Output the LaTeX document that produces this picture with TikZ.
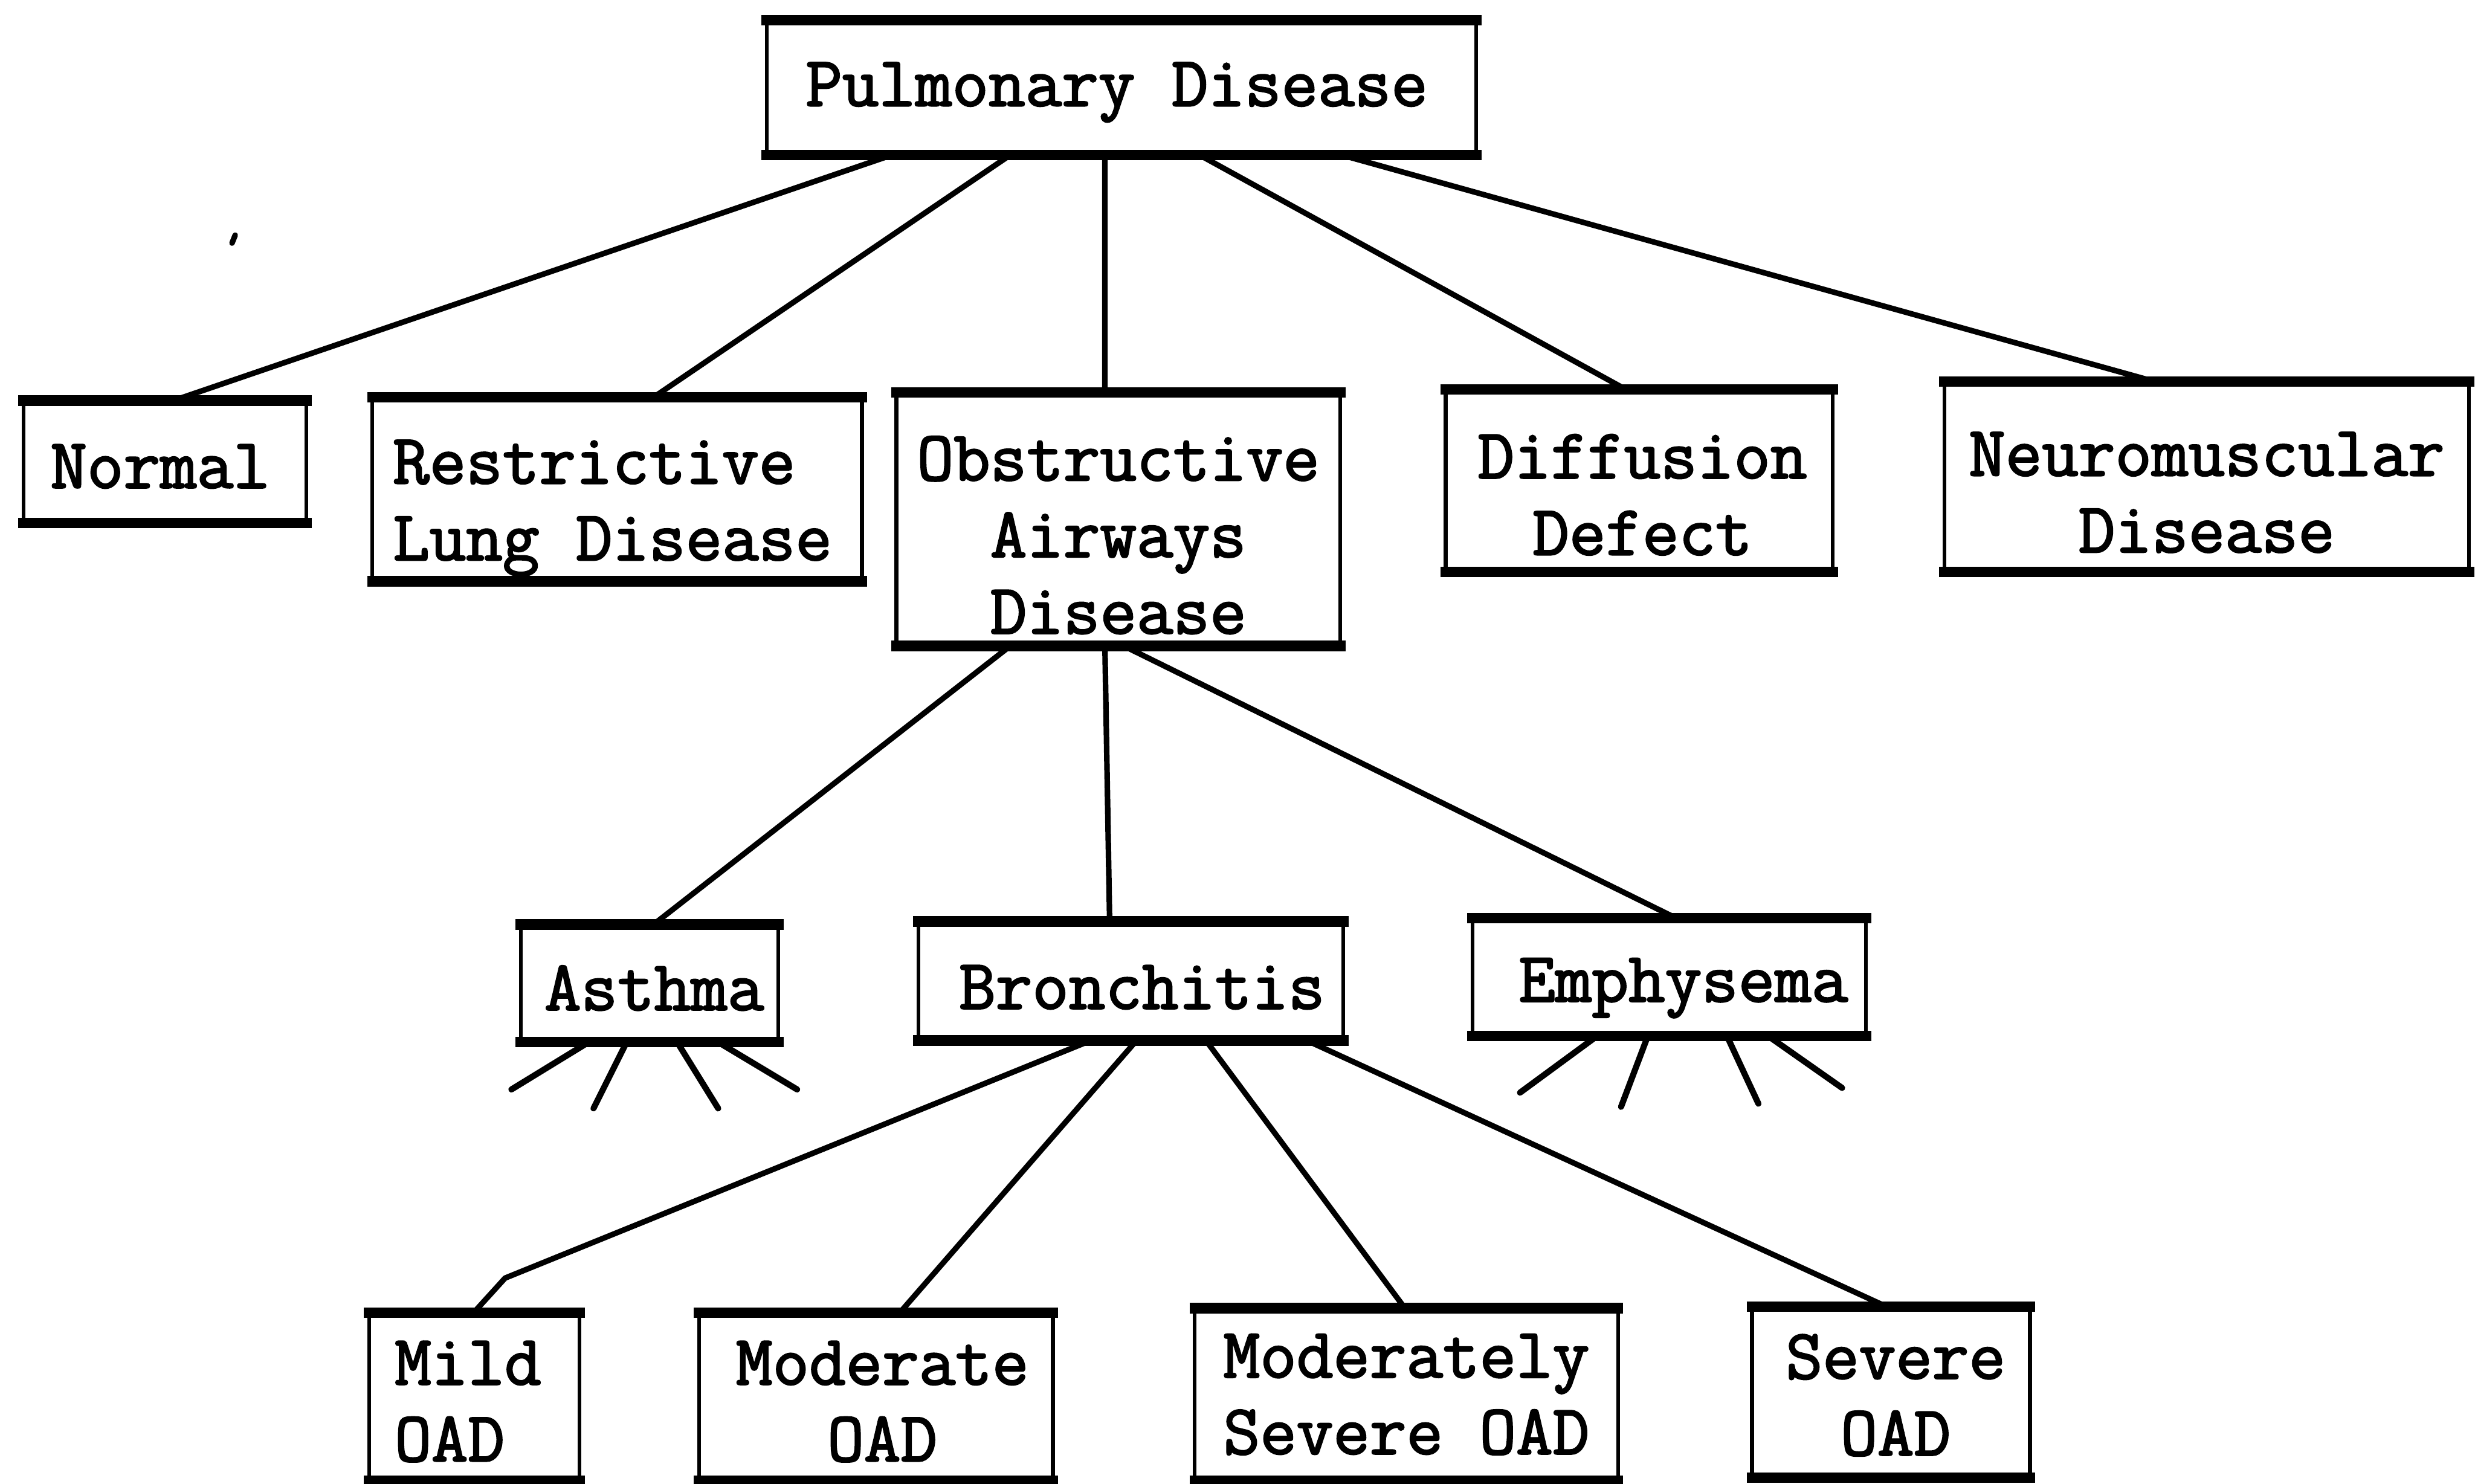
\documentclass[tikz,border=0pt]{standalone}
\usepackage{fontspec}
\newfontfamily\typewriter[FakeBold=2.2]{Latin Modern Mono}
\begin{document}
\begin{tikzpicture}[x=0.01cm,y=-0.01cm,
  box/.style={draw, line width=0.7pt, inner sep=0pt},
  lbl/.style={inner sep=0pt, align=center,
    font=\typewriter\fontsize{12.8}{13.8}\selectfont},
  rim/.style={line width=1.9pt, shorten <=-0.6pt, shorten >=-0.6pt},
  link/.style={line width=1pt, line cap=round, line join=round},
  stub/.style={line width=1.1pt, line cap=round}]
\useasboundingbox (0,0) rectangle (1568,940);

% frames: top level
\node[box, minimum width=4.49cm, minimum height=0.83cm] (pd) at (710.5,55.5) {};
% second level
\node[box, minimum width=1.79cm, minimum height=0.75cm] (normal) at (104.5,292.5) {};
\node[box, minimum width=3.10cm, minimum height=1.14cm] (restr) at (391,310) {};
\node[box, minimum width=2.81cm, minimum height=1.58cm] (oad) at (708.5,329) {};
\node[box, minimum width=2.45cm, minimum height=1.13cm] (diff) at (1038.5,304.5) {};
\node[box, minimum width=3.32cm, minimum height=1.18cm] (neuro) at (1398,302) {};
% third level
\node[box, minimum width=1.63cm, minimum height=0.72cm] (asthma) at (411.5,623) {};
\node[box, minimum width=2.69cm, minimum height=0.73cm] (bron) at (716.5,621.5) {};
\node[box, minimum width=2.49cm, minimum height=0.72cm] (emph) at (1057.5,619) {};
% fourth level
\node[box, minimum width=1.33cm, minimum height=1.04cm] (mild) at (300.5,885) {};
\node[box, minimum width=2.24cm, minimum height=1.04cm] (moder) at (555,885) {};
\node[box, minimum width=2.68cm, minimum height=1.07cm] (modsev) at (891,883.5) {};
\node[box, minimum width=1.76cm, minimum height=1.06cm] (severe) at (1198,882) {};

% typed labels inside the frames
\node[lbl] (pd-t) at ([xshift=-0.03cm,yshift=-0.03cm]pd.center) {Pulmonary Disease};
\node[lbl] (normal-t) at ([xshift=-0.03cm,yshift=-0.03cm]normal.center) {Normal};
\node[lbl, align=left] (restr-t) at ([xshift=-0.03cm,yshift=-0.12cm]restr.center) {Restrictive\\Lung Disease};
\node[lbl] (oad-t) at ([yshift=-0.10cm]oad.center) {Obstructive\\Airways\\Disease};
\node[lbl] (diff-t) at ([xshift=0.02cm,yshift=-0.09cm]diff.center) {Diffusion\\Defect};
\node[lbl] (neuro-t) at ([yshift=-0.10cm]neuro.center) {Neuromuscular\\Disease};
\node[lbl] (asthma-t) at ([xshift=0.03cm,yshift=-0.03cm]asthma.center) {Asthma};
\node[lbl] (bron-t) at ([xshift=0.07cm,yshift=-0.04cm]bron.center) {Bronchitis};
\node[lbl] (emph-t) at ([xshift=0.09cm,yshift=-0.07cm]emph.center) {Emphysema};
\node[lbl, align=left] (mild-t) at ([xshift=-0.04cm,yshift=-0.03cm]mild.center) {Mild\\OAD};
\node[lbl] (moder-t) at ([xshift=0.04cm,yshift=-0.03cm]moder.center) {Moderate\\OAD};
\node[lbl] (modsev-t) at (modsev.center) {Moderately\\Severe OAD};
\node[lbl] (severe-t) at ([xshift=0.03cm,yshift=-0.02cm]severe.center) {Severe\\OAD};

% heavy top and bottom rules of every frame
\foreach \n in {pd,normal,restr,oad,diff,neuro,asthma,bron,emph,mild,moder,modsev,severe}{
  \draw[rim] (\n.north west) -- (\n.north east);
  \draw[rim] (\n.south west) -- (\n.south east);
}

% connectors
\draw[link] ([xshift=-1.455cm]pd.south) -- ([xshift=0.055cm]normal.north);
\draw[link] ([xshift=-0.705cm]pd.south) -- ([xshift=0.23cm]restr.north);
\draw[link] ([xshift=-0.105cm]pd.south) -- ([xshift=-0.085cm]oad.north);
\draw[link] ([xshift=0.495cm]pd.south) -- ([xshift=-0.085cm]diff.north);
\draw[link] ([xshift=1.395cm]pd.south) -- ([xshift=-0.33cm]neuro.north);

\draw[link] ([xshift=-0.685cm]oad.south) -- ([xshift=0.025cm]asthma.north);
\draw[link] ([xshift=-0.085cm]oad.south) -- ([xshift=-0.135cm]bron.north);
\draw[link] ([xshift=0.035cm]oad.south) -- ([xshift=0.045cm]emph.north);

\draw[link] ([xshift=-0.255cm]bron.south) -- ([xshift=0.195cm,yshift=0.22cm]mild.north)
  -- ([xshift=-0.005cm]mild.north);
\draw[link] ([xshift=0.035cm]bron.south) -- ([xshift=0.15cm]moder.north);
\draw[link] ([xshift=0.475cm]bron.south) -- ([xshift=-0.01cm]modsev.north);
\draw[link] ([xshift=1.115cm]bron.south) -- ([xshift=-0.03cm]severe.north);

% open-ended branches below Asthma and Emphysema
\draw[stub] ([xshift=-0.385cm]asthma.south) -- ++(-49,30);
\draw[stub] ([xshift=-0.145cm]asthma.south) -- ++(-21,42);
\draw[stub] ([xshift=0.175cm]asthma.south) -- ++(26,42);
\draw[stub] ([xshift=0.435cm]asthma.south) -- ++(50,30);

\draw[stub] ([xshift=-0.455cm]emph.south) -- ++(-49,36);
\draw[stub] ([xshift=-0.135cm]emph.south) -- ++(-17,45);
\draw[stub] ([xshift=0.365cm]emph.south) -- ++(20,43);
\draw[stub] ([xshift=0.625cm]emph.south) -- ++(47,33);

% small speck left of the upper branches
\draw[line width=1pt, line cap=round] (149,149) -- (147,154);
\end{tikzpicture}
\end{document}
